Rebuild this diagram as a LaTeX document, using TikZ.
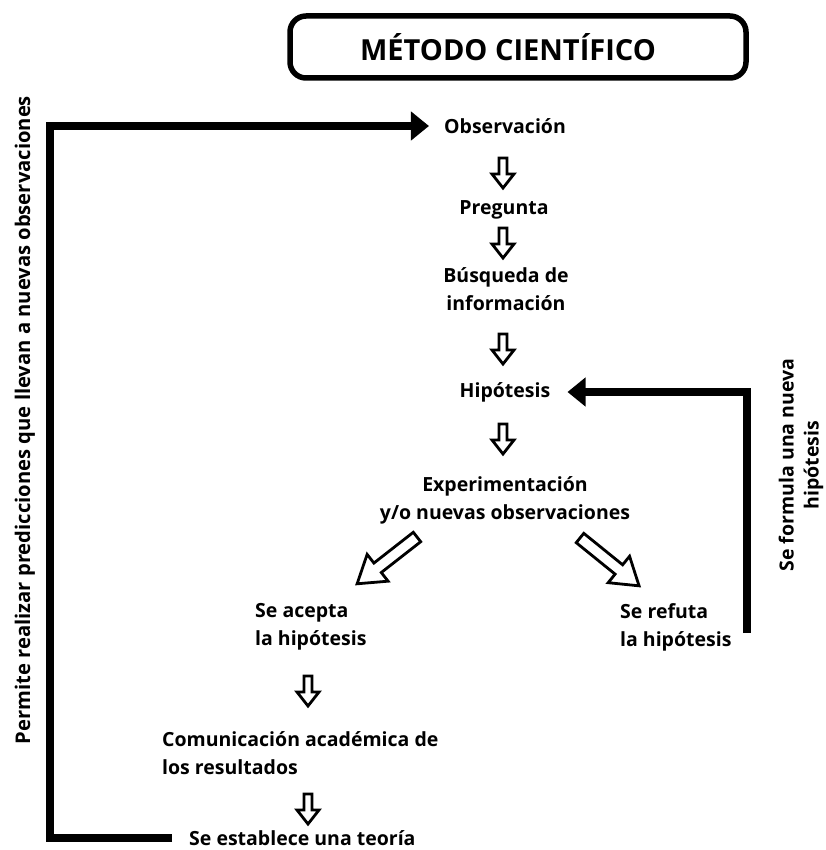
\documentclass[tikz,border=0pt]{standalone}
\usepackage{fontspec}
\setmainfont{Open Sans}
\usetikzlibrary{arrows.meta}
\begin{document}
\begin{tikzpicture}[x=1pt,y=-1pt,
  lbl/.style={font=\bfseries\fontsize{19.5}{28}\selectfont, inner sep=0pt},
  ctr/.style={lbl, align=center},
  lft/.style={lbl, align=left, anchor=west},
  loopline/.style={line width=7.5pt, line join=miter,
    -{Triangle[length=18pt,width=28pt]}},
  hollow/.style={draw=black, line width=2.8pt, fill=white, line join=miter},
  downarr/.pic={\path[hollow] (-4,0) -- (4,0) -- (4,16) -- (11,16) -- (0,30)
      -- (-11,16) -- (-4,16) -- cycle;},
  bigarr/.pic={\path[hollow] (0,-6) -- (50,-6) -- (50,-17) -- (76,0) -- (50,17)
      -- (50,6) -- (0,6) -- cycle;}
]
\useasboundingbox (0,0) rectangle (825,850);

% title frame
\draw[line width=5.5pt, rounded corners=16pt] (290,16) rectangle (746,78);
\node[inner sep=0pt, font=\bfseries\fontsize{29}{32}\selectfont]
  (title) at (508,47) {MÉTODO CIENTÍFICO};

% steps
\node[ctr] (obs)   at (505,126) {Observación};
\node[ctr] (preg)  at (504,210) {Pregunta};
\node[ctr] (busq)  at (506,289) {Búsqueda de\\información};
\node[ctr] (hipo)  at (505,392) {Hipótesis};
\node[ctr] (exper) at (505,500) {Experimentación\\y/o nuevas observaciones};
\node[lft] (acepta) at (255,627) {Se acepta\\la hipótesis};
\node[lft] (refuta) at (620,627) {Se refuta\\la hipótesis};
\node[lft] (comun)  at (162,753) {Comunicación académica de\\los resultados};
\node[lft] (teoria) at (189,838) {Se establece una teoría};

% hollow arrows between steps
\pic at (503,158) {downarr};
\pic at (503,228) {downarr};
\pic at (503,334) {downarr};
\pic at (503,424) {downarr};
\pic at (308,676) {downarr};
\pic at (308,794) {downarr};
\pic[rotate=-142] at (417,537) {bigarr};
\pic[rotate=-39]  at (580,538) {bigarr};

% feedback loops
\coordinate (leftrail)  at (50,0);
\draw[loopline] ([xshift=-17pt]teoria.west) -- (teoria.west -| leftrail)
  |- ([xshift=-15pt]obs.west);
\coordinate (rbottom) at (747,633);
\draw[loopline] (rbottom) |- ([xshift=17pt]hipo.east);

% loop labels
\node[lbl, rotate=90, font=\bfseries\fontsize{20.2}{24}\selectfont] (leftlbl) at (25,420)
  {Permite realizar predicciones que llevan a nuevas observaciones};
\node[ctr, rotate=90, font=\bfseries\fontsize{19.5}{25}\selectfont] (rightlbl) at (801,465)
  {Se formula una nueva\\hipótesis};
\end{tikzpicture}
\end{document}
